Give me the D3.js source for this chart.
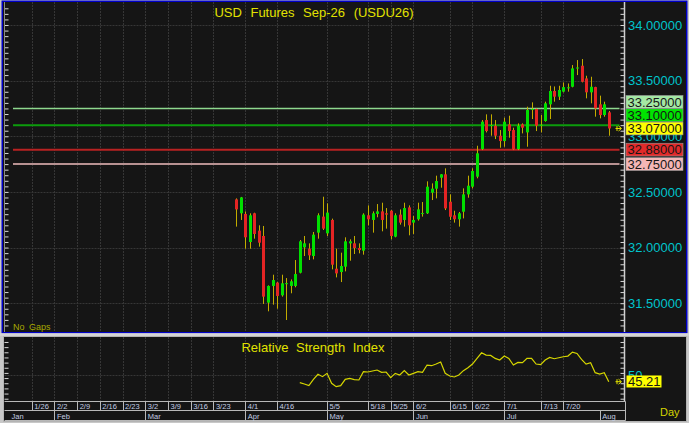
<!DOCTYPE html>
<html>
<head>
<meta charset="utf-8">
<script src="https://cdn.jsdelivr.net/npm/d3@7"></script>
<style>
  html, body { margin: 0; padding: 0; background: #c8c8c8; overflow: hidden; }
  svg { display: block; font-family: "Liberation Sans", Arial, sans-serif; }
</style>
</head>
<body>
<div id="chart"></div>
<script>
// Daily candles, first one sits on trading day #51 counted from the chart's left edge
const firstDay = 51;
const opens = [32.433, 32.308, 32.302, 32.050, 32.308, 32.152, 32.104, 31.505, 31.655, 31.685,
  31.571, 31.675, 31.655, 31.655, 31.774, 32.002, 31.990, 31.924, 32.134, 32.278,
  32.128, 32.248, 31.810, 31.780, 31.828, 32.038, 32.038, 31.996, 31.972, 32.290,
  32.248, 32.302, 32.325, 32.308, 32.331, 32.098, 32.296, 32.248, 32.361, 32.224,
  32.254, 32.305, 32.308, 32.493, 32.529, 32.628, 32.658, 32.412, 32.290, 32.254,
  32.322, 32.478, 32.547, 32.637, 32.885, 33.146, 33.095, 33.095, 33.005, 32.957,
  33.107, 33.056, 32.885, 33.107, 33.035, 33.240, 33.245, 33.098, 33.137, 33.287,
  33.407, 33.356, 33.401, 33.434, 33.445, 33.612, 33.634, 33.520, 33.395, 33.442,
  33.287, 33.191, 33.215];
const highs = [32.442, 32.455, 32.325, 32.308, 32.313, 32.200, 32.194, 31.660, 31.756, 31.690,
  31.756, 31.726, 31.714, 31.888, 32.068, 32.104, 32.038, 32.140, 32.308, 32.457,
  32.397, 32.260, 31.990, 31.954, 32.092, 32.074, 32.104, 32.038, 32.308, 32.379,
  32.325, 32.391, 32.403, 32.355, 32.337, 32.308, 32.343, 32.403, 32.379, 32.284,
  32.403, 32.409, 32.595, 32.577, 32.646, 32.660, 32.712, 32.478, 32.331, 32.320,
  32.532, 32.646, 32.712, 32.915, 33.146, 33.197, 33.197, 33.146, 33.056, 33.167,
  33.185, 33.077, 33.116, 33.116, 33.266, 33.305, 33.251, 33.191, 33.311, 33.454,
  33.448, 33.454, 33.484, 33.475, 33.640, 33.685, 33.694, 33.544, 33.535, 33.445,
  33.365, 33.311, 33.227];
const lows = [32.188, 32.248, 31.990, 31.990, 32.080, 32.008, 31.493, 31.427, 31.487, 31.451,
  31.559, 31.349, 31.589, 31.643, 31.768, 31.924, 31.888, 31.894, 32.080, 32.158,
  32.104, 31.804, 31.732, 31.690, 31.786, 31.882, 31.942, 31.948, 31.936, 32.200,
  32.134, 32.272, 32.146, 32.170, 32.074, 32.092, 32.206, 32.188, 32.110, 32.122,
  32.242, 32.278, 32.302, 32.427, 32.442, 32.538, 32.337, 32.248, 32.224, 32.188,
  32.262, 32.448, 32.532, 32.622, 32.876, 33.035, 33.005, 32.975, 32.897, 32.906,
  32.987, 32.876, 32.876, 33.026, 32.906, 33.155, 33.047, 33.035, 33.131, 33.155,
  33.311, 33.326, 33.395, 33.401, 33.440, 33.550, 33.484, 33.341, 33.296, 33.176,
  33.161, 33.176, 33.005];
const closes = [32.343, 32.451, 32.092, 32.290, 32.122, 32.044, 31.559, 31.655, 31.708, 31.565,
  31.679, 31.680, 31.697, 31.762, 32.056, 32.038, 31.930, 32.116, 32.290, 32.170,
  32.314, 31.846, 31.768, 31.834, 32.056, 32.056, 31.996, 31.978, 32.296, 32.254,
  32.308, 32.325, 32.248, 32.296, 32.104, 32.290, 32.224, 32.355, 32.200, 32.248,
  32.343, 32.310, 32.547, 32.529, 32.598, 32.658, 32.352, 32.277, 32.254, 32.308,
  32.478, 32.556, 32.688, 32.847, 33.131, 33.047, 33.101, 33.005, 32.957, 33.131,
  33.047, 32.882, 33.095, 33.077, 33.236, 33.245, 33.095, 33.104, 33.296, 33.407,
  33.356, 33.416, 33.442, 33.440, 33.610, 33.618, 33.490, 33.395, 33.445, 33.251,
  33.191, 33.287, 33.070];

// RSI(14), first value on trading day #65
const rsiFirstDay = 65;
const rsiValues = [44.46, 43.43, 42.14, 47.03, 50.90, 49.09, 51.67, 43.94, 41.37, 42.14,
  47.03, 47.81, 46.78, 46.52, 52.96, 52.70, 53.47, 54.25, 52.44, 52.70,
  48.32, 51.67, 50.38, 53.73, 50.38, 51.67, 52.96, 52.44, 58.11, 57.60,
  58.88, 60.43, 51.67, 49.61, 48.84, 50.38, 53.73, 56.05, 58.88, 63.26,
  67.64, 65.84, 65.58, 63.26, 61.97, 65.07, 63.26, 58.11, 60.17, 59.91,
  63.26, 63.26, 58.88, 58.37, 61.97, 64.04, 63.00, 63.78, 64.55, 65.07,
  68.16, 67.13, 62.49, 58.88, 59.91, 52.19, 51.16, 52.19, 45.21];

// time axis
const weekLabels = ["1/26", "2/2", "2/9", "2/16", "2/23", "3/2", "3/9", "3/16", "3/23", "4/1",
  "4/16", "5/5", "5/18", "5/25", "6/2", "6/15", "6/22", "7/1", "7/13", "7/20"];
const weekDays = [6, 11, 16, 21, 26, 31, 36, 41, 46, 53, 60, 71, 80, 85, 90, 98, 103, 110, 118, 123];
const monthLabels = ["Jan", "Feb", "Mar", "Apr", "May", "Jun", "Jul", "Aug"];
const monthDays = [1, 11, 31, 53, 71, 90, 110, 131];

// price scale and marked levels
const priceTicks = [31.5, 32.0, 32.5, 33.0, 33.5, 34.0];
const levelPrices = [33.25, 33.10, 32.88, 32.75];
const lastPrice = 33.07;
const rsiMid = 50;
const lastRsi = 45.21;

// styles
const bg = "#151515";
const gridColor = "#363636";
const frameColor = "#b4b4b4";
const yellow = "#e2e200";
const cyan = "#00c4cc";
const levelLine = ["#8ed88e", "#0c9c0c", "#b82222", "#b89292"];
const levelFill = ["#a4e8a4", "#00e400", "#e22a2a", "#f4b6b6"];

const W = 689, H = 423;
const plotL = 4.5, plotR = 624.5;
const mainTop = 2, mainBot = 332;
const lowTop = 337, lowBot = 401.5;

const x = d3.scaleLinear().domain([0, 136]).range([4.44, 4.44 + 136 * 4.544]);
const y = d3.scaleLinear().domain([31.5, 34]).range([303.2, 25]);
const yR = d3.scaleLinear().domain([31, 79]).range([400, 338.1]);

const svg = d3.select("#chart").append("svg")
  .attr("width", W)
  .attr("height", H);

svg.append("rect").attr("width", W).attr("height", H).attr("fill", "#c8c8c8");

// lower panel + time axis block
svg.append("rect")
  .attr("x", 3.5).attr("y", 336.5).attr("width", 683).attr("height", 85)
  .attr("fill", bg).attr("stroke", frameColor).attr("stroke-width", 1);

// main panel with blue (selected) border
svg.append("rect")
  .attr("x", 2.25).attr("y", 1.25).attr("width", 684.5).attr("height", 331.5)
  .attr("fill", bg).attr("stroke", "#0000c8").attr("stroke-width", 1.5);

const grid = svg.append("g")
  .attr("stroke", gridColor)
  .attr("stroke-width", 1)
  .attr("stroke-dasharray", "2,1");

grid.selectAll(".hg").data(priceTicks).enter().append("line")
  .attr("x1", plotL).attr("x2", plotR)
  .attr("y1", d => Math.round(y(d)) + 0.5).attr("y2", d => Math.round(y(d)) + 0.5);

grid.selectAll(".vg").data(weekDays).enter().append("line")
  .attr("x1", d => Math.round(x(d)) + 0.5).attr("x2", d => Math.round(x(d)) + 0.5)
  .attr("y1", mainTop).attr("y2", mainBot);

grid.selectAll(".vg2").data(weekDays).enter().append("line")
  .attr("x1", d => Math.round(x(d)) + 0.5).attr("x2", d => Math.round(x(d)) + 0.5)
  .attr("y1", lowTop).attr("y2", lowBot);

grid.append("line")
  .attr("x1", plotL).attr("x2", plotR)
  .attr("y1", Math.round(yR(rsiMid)) + 0.5).attr("y2", Math.round(yR(rsiMid)) + 0.5);

// tick marks on both sides of each panel
function ticks(scale, step, x0, orient, yMin, yMax) {
  const lo = scale.invert(yMax), hi = scale.invert(yMin);
  const vals = d3.range(Math.ceil(lo / step) * step, hi, step);
  const axis = (orient === "left" ? d3.axisLeft(scale) : d3.axisRight(scale))
    .tickValues(vals).tickFormat("").tickSizeInner(-4).tickSizeOuter(0);
  const g = svg.append("g").attr("transform", `translate(${x0},0)`).call(axis);
  g.select(".domain").remove();
  g.selectAll("line").attr("stroke", "#d8d8d8");
}
ticks(y, 0.05, plotL, "left", mainTop + 3, mainBot - 2);
ticks(y, 0.05, plotR, "right", mainTop + 3, mainBot - 2);
ticks(yR, 4, plotL, "left", lowTop + 3, lowBot - 2);
ticks(yR, 4, plotR, "right", lowTop + 3, lowBot - 2);

// axis lines
svg.append("line").attr("x1", plotR).attr("x2", plotR).attr("y1", mainTop).attr("y2", mainBot)
  .attr("stroke", "#d0d0d0").attr("stroke-width", 1.5);
svg.append("line").attr("x1", plotR).attr("x2", plotR).attr("y1", lowTop).attr("y2", lowBot)
  .attr("stroke", "#d0d0d0").attr("stroke-width", 1.5);
svg.append("line").attr("x1", plotL).attr("x2", plotL).attr("y1", mainTop).attr("y2", mainBot)
  .attr("stroke", "#8a8a8a").attr("stroke-width", 1);

// panel separator (light strip between panels)
svg.append("rect").attr("x", 0).attr("y", 333.2).attr("width", W).attr("height", 2.6).attr("fill", "#d6d6d6");

// title
svg.append("text")
  .attr("x", 314).attr("y", 16.5)
  .attr("text-anchor", "middle")
  .attr("fill", yellow)
  .style("font-size", "13px")
  .style("word-spacing", "5px")
  .text("USD Futures Sep-26 (USDU26)");

// price labels on right axis
svg.append("g").selectAll("text").data(priceTicks).enter().append("text")
  .attr("x", 628).attr("y", d => y(d)).attr("dy", "0.36em")
  .attr("fill", cyan)
  .style("font-size", "13px")
  .text(d => d3.format(".5f")(d));

// horizontal level lines
svg.append("g").selectAll("line").data(levelPrices).enter().append("line")
  .attr("x1", 13).attr("x2", 619.5)
  .attr("y1", d => y(d)).attr("y2", d => y(d))
  .attr("stroke", (d, i) => levelLine[i])
  .attr("stroke-width", (d, i) => i === 0 ? 1.4 : 2);

// candles
const plot = svg.append("g");
svg.append("clipPath").attr("id", "clipMain").append("rect")
  .attr("x", plotL + 0.5).attr("y", mainTop).attr("width", plotR - plotL - 1).attr("height", mainBot - mainTop);
plot.attr("clip-path", "url(#clipMain)");

const candles = opens.map((o, k) => ({
  day: firstDay + k, open: o, high: highs[k], low: lows[k], close: closes[k]
}));

plot.selectAll(".wick").data(candles).enter().append("line")
  .attr("x1", d => Math.round(x(d.day)) + 0.5).attr("x2", d => Math.round(x(d.day)) + 0.5)
  .attr("y1", d => y(d.high)).attr("y2", d => y(d.low))
  .attr("stroke", "#c2ac00").attr("stroke-width", 1);

plot.selectAll(".body").data(candles).enter().append("rect")
  .attr("x", d => Math.round(x(d.day)) - 1)
  .attr("width", 3)
  .attr("y", d => y(Math.max(d.open, d.close)))
  .attr("height", d => Math.max(1, Math.abs(y(d.open) - y(d.close))))
  .attr("fill", d => d.close >= d.open ? "#00e000" : "#e42424");

// right-side value boxes, stacked upward when they collide
const boxes = levelPrices.map((p, i) => ({ p: p, fill: levelFill[i] }))
  .concat([{ p: lastPrice, fill: "#ffff00" }])
  .sort((a, b) => a.p - b.p);
let prevY = Infinity;
boxes.forEach(b => {
  b.cy = Math.min(y(b.p), prevY - 13.3);
  prevY = b.cy;
});
const boxG = svg.append("g");
boxG.selectAll("rect").data(boxes).enter().append("rect")
  .attr("x", 626).attr("y", d => d.cy - 6.4).attr("width", 57).attr("height", 12.8)
  .attr("fill", d => d.fill).attr("stroke", "#9a9a9a").attr("stroke-width", 0.6);
boxG.selectAll("text").data(boxes).enter().append("text")
  .attr("x", 627.5).attr("y", d => d.cy).attr("dy", "0.36em")
  .attr("fill", "#161616")
  .style("font-size", "13px")
  .text(d => d3.format(".5f")(d.p));

// last-value arrow markers
function arrow(yy) {
  svg.append("path")
    .attr("d", `M615.5,${yy} L621,${yy} M618.5,${yy - 2.5} L621.5,${yy} L618.5,${yy + 2.5} M617,${yy - 2.5} L617,${yy + 2.5}`)
    .attr("stroke", yellow).attr("stroke-width", 1).attr("fill", "none");
}
arrow(y(lastPrice));

svg.append("text")
  .attr("x", 13).attr("y", 330)
  .attr("fill", "#a8a800")
  .style("font-size", "9px")
  .style("word-spacing", "2px")
  .text("No Gaps");

// RSI panel
svg.append("text")
  .attr("x", 313).attr("y", 351.5)
  .attr("text-anchor", "middle")
  .attr("fill", yellow)
  .style("font-size", "13px")
  .style("word-spacing", "4px")
  .text("Relative Strength Index");

const rsi = rsiValues.map((v, k) => ({ day: rsiFirstDay + k, v: v }));
svg.append("path")
  .datum(rsi)
  .attr("fill", "none")
  .attr("stroke", "#d6d600")
  .attr("stroke-width", 1.2)
  .attr("d", d3.line().x(d => x(d.day)).y(d => yR(d.v)));

svg.append("text")
  .attr("x", 628).attr("y", yR(rsiMid)).attr("dy", "0.36em")
  .attr("fill", cyan).style("font-size", "13px")
  .text(rsiMid);

svg.append("rect")
  .attr("x", 626.5).attr("y", yR(lastRsi) - 6.2).attr("width", 35).attr("height", 12)
  .attr("fill", "#ffff00");
svg.append("text")
  .attr("x", 628).attr("y", yR(lastRsi)).attr("dy", "0.36em")
  .attr("fill", "#161616").style("font-size", "13px")
  .text(d3.format(".2f")(lastRsi));
arrow(yR(lastRsi));

// time axis: two rows (weeks, months)
const axG = svg.append("g").attr("stroke", "#b8b8b8").attr("stroke-width", 1);
[401.5, 410.5, 420.5].forEach(yy => {
  axG.append("line").attr("x1", plotL).attr("x2", plotR + 1).attr("y1", yy).attr("y2", yy);
});
axG.append("line").attr("x1", plotR + 1).attr("x2", plotR + 1).attr("y1", 401.5).attr("y2", 420.5);
axG.selectAll(".ws").data(weekDays).enter().append("line")
  .attr("x1", d => Math.round(x(d)) + 0.5).attr("x2", d => Math.round(x(d)) + 0.5)
  .attr("y1", 401.5).attr("y2", 410.5);
axG.selectAll(".ms").data(monthDays.slice(1)).enter().append("line")
  .attr("x1", d => Math.round(x(d)) + 0.5).attr("x2", d => Math.round(x(d)) + 0.5)
  .attr("y1", 410.5).attr("y2", 420.5);

const axisFont = "'Liberation Sans Narrow', 'Liberation Sans', Arial, sans-serif";
svg.append("g").selectAll("text").data(weekLabels).enter().append("text")
  .attr("x", (d, i) => x(weekDays[i]) + 2.5).attr("y", 409)
  .attr("fill", "#c4cee4")
  .style("font-family", axisFont).style("font-size", "7.5px")
  .text(d => d);
svg.append("g").selectAll("text").data(monthLabels).enter().append("text")
  .attr("x", (d, i) => x(monthDays[i]) + 2.5).attr("y", 418.5)
  .attr("fill", "#c4cee4")
  .style("font-family", axisFont).style("font-size", "7.5px")
  .text(d => d);

svg.append("text")
  .attr("x", 660).attr("y", 416)
  .attr("fill", "#d4d400")
  .style("font-size", "11px")
  .text("Day");
</script>
</body>
</html>
